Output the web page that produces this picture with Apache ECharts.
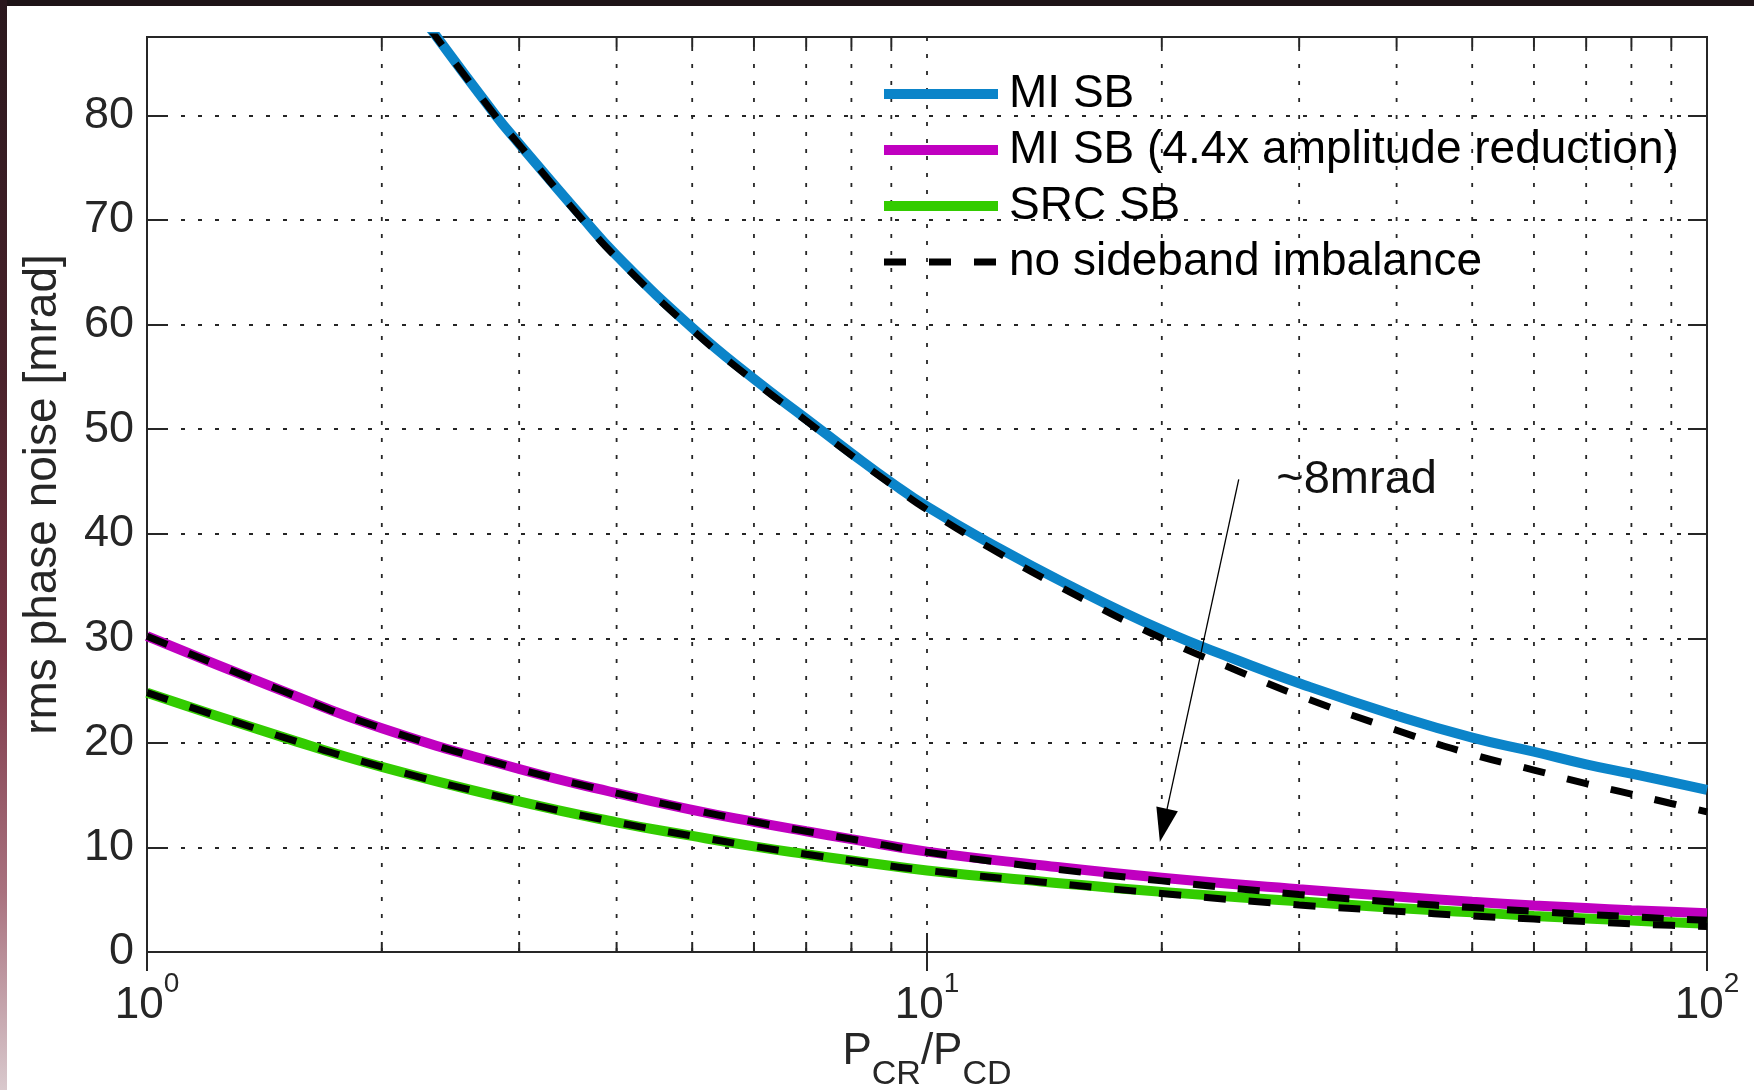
<!DOCTYPE html>
<html>
<head>
<meta charset="utf-8">
<title>rms phase noise</title>
<script src="https://cdn.jsdelivr.net/npm/echarts@6/dist/echarts.min.js"></script>
<style>
  html, body { margin: 0; padding: 0; background: #fff; }
  #wrap { position: relative; width: 1754px; height: 1090px; overflow: hidden; }
  #chart { width: 1754px; height: 1090px; }
  /* dark frame left over from the screenshot */
  .edge-top { position: absolute; left: 0; top: 0; width: 1754px; height: 6px; background: #1e1417; z-index: 5; }
  .edge-left { position: absolute; left: 0; top: 0; width: 7px; height: 1090px; z-index: 5;
    background: linear-gradient(#2a181d, #4a222b 35%, #7a3646 60%, #a9727f 82%, #d9c9cd); }
</style>
</head>
<body>
<div id="wrap">
  <div id="chart"></div>
  <div class="edge-top"></div>
  <div class="edge-left"></div>
</div>
<script>
// P_CR / P_CD sample points
const misbX = [2.3, 2.8, 3, 3.6, 4, 5, 6, 7, 8, 9, 10, 12, 15, 20, 25, 30, 40, 50, 60, 70, 80, 90, 100]
const lowX = [1, 1.5, 2, 3, 4, 5, 6, 7, 8, 10, 14, 20, 30, 40, 50, 60, 70, 80, 90, 100]

// rms phase noise [mrad]
const misb = [88.5, 80.0, 77.3, 70.4, 66.6, 59.7, 54.8, 51.0, 47.7, 44.9, 42.6, 39.15, 35.3, 30.8, 27.9, 25.7, 22.6, 20.5, 19.15, 17.95, 17.05, 16.25, 15.5]
const misbIdeal = [88.4, 79.9, 77.2, 70.2, 66.4, 59.5, 54.6, 50.8, 47.5, 44.7, 42.3, 38.7, 34.7, 30.0, 26.9, 24.5, 21.2, 18.9, 17.4, 16.1, 15.1, 14.2, 13.4]
const misbReduced = [30.2, 24.9, 21.4, 17.5, 15.2, 13.6, 12.45, 11.55, 10.8, 9.6, 8.3, 7.1, 6.0, 5.3, 4.8, 4.45, 4.2, 4.0, 3.85, 3.7]
const misbReducedIdeal = [30.2, 24.9, 21.4, 17.5, 15.2, 13.6, 12.45, 11.55, 10.8, 9.55, 8.1, 6.8, 5.5, 4.75, 4.25, 3.88, 3.6, 3.37, 3.17, 3.03]
const srcsb = [24.8, 20.5, 17.7, 14.4, 12.4, 11.1, 10.1, 9.35, 8.75, 7.8, 6.75, 5.75, 4.85, 4.2, 3.8, 3.45, 3.2, 3.0, 2.85, 2.7]
const srcsbIdeal = [24.8, 20.5, 17.7, 14.4, 12.4, 11.1, 10.1, 9.35, 8.75, 7.8, 6.7, 5.6, 4.5, 3.9, 3.45, 3.15, 2.9, 2.7, 2.55, 2.45]

// axes
const xMin = 1
const xMax = 100
const yMin = 0
const yMax = 87.5
const yStep = 10
const minorX = [2, 3, 4, 5, 6, 7, 8, 9, 20, 30, 40, 50, 60, 70, 80, 90]

// annotation
const arrowFrom = [25.1, 45.2]
const arrowTo = [20.1, 12.1]
const noteAt = [28.0, 45.1]
const noteText = '~8mrad'

const names = ['MI SB', 'MI SB (4.4x amplitude reduction)', 'SRC SB', 'no sideband imbalance']

const FONT = 'Liberation Sans, Arial, sans-serif'
const AX = '#262626'
const DOT = [4, 13]

const pairs = (xs, ys) => xs.map((x, i) => [x, ys[i]])

const solid = (name, color, xs, ys) => ({
  name: name,
  type: 'line',
  symbol: 'none',
  smooth: 0.5,
  lineStyle: { color: color, width: 10 },
  itemStyle: { color: color },
  data: pairs(xs, ys)
})

const dashed = (xs, ys) => ({
  name: names[3],
  type: 'line',
  symbol: 'none',
  smooth: 0.5,
  z: 3,
  lineStyle: { color: '#000', width: 7, type: [22, 23] },
  itemStyle: { color: '#000' },
  data: pairs(xs, ys)
})

const chart = echarts.init(document.getElementById('chart'))

chart.setOption({
  animation: false,
  backgroundColor: '#fff',
  grid: {
    left: 147,
    right: 47,
    top: 37,
    bottom: 138,
    outerBoundsMode: 'none',
    containLabel: false,
    show: true,
    borderColor: AX,
    borderWidth: 2
  },
  legend: {
    orient: 'vertical',
    left: 879,
    top: 71,
    padding: 0,
    itemWidth: 114,
    itemHeight: 14,
    itemGap: 10,
    itemStyle: { opacity: 0 },
    textStyle: { fontFamily: FONT, fontSize: 46, color: '#000', lineHeight: 46, padding: [0, 0, 0, 6] },
    data: [
      { name: names[0], lineStyle: { width: 10 } },
      { name: names[1], lineStyle: { width: 10 } },
      { name: names[2], lineStyle: { width: 10 } },
      { name: names[3], lineStyle: { width: 7 } }
    ]
  },
  xAxis: [{
    type: 'log',
    logBase: 10,
    min: xMin,
    max: xMax,
    position: 'bottom',
    axisLine: { show: false },
    axisTick: { inside: true, length: 19, lineStyle: { color: AX, width: 2 } },
    splitLine: { show: true, lineStyle: { color: AX, width: 1.8, type: DOT } },
    axisLabel: {
      margin: 32,
      formatter: v => '{b|10}{sup|' + Math.round(Math.log10(v)) + '}',
      rich: {
        b: { fontFamily: FONT, fontSize: 44, lineHeight: 44, color: AX, verticalAlign: 'bottom' },
        sup: { fontFamily: FONT, fontSize: 28, lineHeight: 28, color: AX, verticalAlign: 'bottom', padding: [0, 0, 30, 0] }
      }
    },
    name: '{p|P}{s|CR}{p|/P}{s|CD}',
    nameLocation: 'middle',
    nameGap: 78,
    nameMoveOverlap: false,
    nameTextStyle: {
      rich: {
        p: { fontFamily: FONT, fontSize: 44, lineHeight: 44, color: AX, verticalAlign: 'top' },
        s: { fontFamily: FONT, fontSize: 34, lineHeight: 34, color: AX, verticalAlign: 'top', padding: [28, 0, 0, 0] }
      }
    }
  }, {
    // top ticks only
    type: 'log',
    logBase: 10,
    min: xMin,
    max: xMax,
    position: 'top',
    axisLine: { show: false },
    axisTick: { inside: true, length: 19, lineStyle: { color: AX, width: 2 } },
    axisLabel: { show: false },
    splitLine: { show: false }
  }],
  yAxis: [{
    type: 'value',
    min: yMin,
    max: yMax,
    interval: yStep,
    axisLine: { show: false },
    axisTick: { inside: true, length: 19, lineStyle: { color: AX, width: 2 } },
    splitLine: { show: true, lineStyle: { color: AX, width: 1.8, type: DOT } },
    axisLabel: {
      margin: 13,
      fontFamily: FONT,
      fontSize: 45,
      color: AX,
      formatter: v => (v % yStep === 0 ? String(v) : '')
    },
    name: 'rms phase noise [mrad]',
    nameLocation: 'middle',
    nameGap: 81,
    nameMoveOverlap: false,
    nameTextStyle: { fontFamily: FONT, fontSize: 46, color: AX }
  }, {
    // right ticks only
    type: 'value',
    position: 'right',
    min: yMin,
    max: yMax,
    interval: yStep,
    axisLine: { show: false },
    axisTick: { inside: true, length: 19, lineStyle: { color: AX, width: 2 } },
    axisLabel: { show: false },
    splitLine: { show: false }
  }],
  series: [
    {
      // minor log grid lines + minor ticks (2..9, 20..90)
      type: 'custom',
      silent: true,
      z: 1,
      data: minorX.map(v => [v]),
      encode: { x: 0 },
      renderItem: (params, api) => {
        const v = api.value(0)
        const b = api.coord([v, yMin])
        const t = api.coord([v, yMax])
        const st = { stroke: AX, lineWidth: 2 }
        return {
          type: 'group',
          children: [
            { type: 'line', shape: { x1: b[0], y1: b[1], x2: t[0], y2: t[1] }, style: { stroke: AX, lineWidth: 1.8, lineDash: DOT } },
            { type: 'line', shape: { x1: b[0], y1: b[1], x2: b[0], y2: b[1] - 10 }, style: st },
            { type: 'line', shape: { x1: t[0], y1: t[1], x2: t[0], y2: t[1] + 10 }, style: st }
          ]
        }
      }
    },
    solid(names[0], '#0b84c9', misbX, misb),
    solid(names[1], '#c000c0', lowX, misbReduced),
    solid(names[2], '#33cc00', lowX, srcsb),
    dashed(misbX, misbIdeal),
    dashed(lowX, misbReducedIdeal),
    dashed(lowX, srcsbIdeal),
    {
      // arrow + "~8mrad" note
      type: 'line',
      data: [],
      silent: true,
      z: 4,
      markLine: {
        silent: true,
        symbol: ['none', 'triangle'],
        symbolSize: [22, 34],
        lineStyle: { color: '#000', width: 1.3, type: 'solid' },
        label: { show: false },
        data: [[{ coord: arrowFrom }, { coord: arrowTo }]]
      },
      markPoint: {
        silent: true,
        symbol: 'circle',
        symbolSize: 1,
        itemStyle: { color: 'rgba(0,0,0,0)' },
        label: {
          show: true,
          position: 'right',
          distance: 0,
          fontFamily: FONT,
          fontSize: 47,
          color: '#111',
          formatter: noteText
        },
        data: [{ coord: noteAt }]
      }
    }
  ]
})
</script>
</body>
</html>
